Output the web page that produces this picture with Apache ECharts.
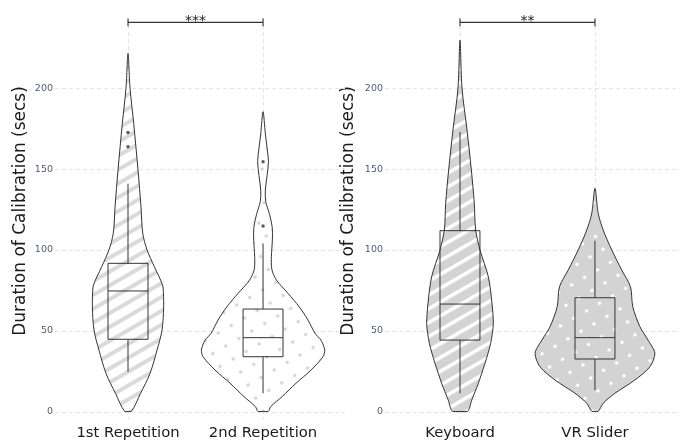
<!DOCTYPE html>
<html><head><meta charset="utf-8">
<script src="https://cdn.jsdelivr.net/npm/echarts@6/dist/echarts.min.js"></script>
<style>html,body{margin:0;padding:0;background:#fff}#c{width:683px;height:441px}</style>
</head><body><div id="c"></div>
<script>
// ---------------- data ----------------
const leftGroups = ['1st Repetition', '2nd Repetition'];
const rightGroups = ['Keyboard', 'VR Slider'];
const yTicks = [0, 50, 100, 150, 200];
const yTitle = 'Duration of Calibration (secs)';

// violin outlines: [seconds, half-width in group units]
const violin1st = [[0,.024],[11.3,.093],[23.6,.163],[38,.215],[50.4,.252],[64.9,.264],[77.2,.259],[89.6,.195],[100,.141],[110.3,.109],[126.7,.096],[149.4,.074],[178.3,.042],[200,.015],[221.6,0]];
const violin2nd = [[0,.037],[3,.056],[9.2,.141],[17.5,.244],[25.7,.356],[33.9,.444],[38,.457],[44,.43],[48.4,.385],[56.6,.333],[64.9,.267],[73.1,.185],[81.4,.099],[88,.065],[96,.062],[106,.069],[114,.068],[122,.048],[130,.02],[137,.017],[146,.03],[154.6,.04],[163,.03],[172,.017],[185.5,0]];
const violinKeyboard = [[0,.054],[7.1,.087],[17.5,.136],[29.8,.185],[42.2,.227],[54.6,.247],[67,.237],[83.4,.21],[100,.148],[112.3,.116],[128.8,.106],[149.4,.084],[174.2,.052],[200,.015],[229.9,0]];
const violinVR = [[0,.022],[5.1,.061],[11.3,.148],[19.5,.296],[27.7,.407],[36,.444],[44.2,.393],[52.5,.333],[64.9,.28],[77.2,.263],[87.6,.198],[100,.124],[112.3,.061],[122.6,.024],[138.1,0]];

// box stats: [lower whisker, Q1, median, Q3, upper whisker]
const box1st = [24.6, 44.7, 74.6, 91.7, 141];
const box2nd = [11.3, 33.9, 45.7, 63.4, 104];
const boxKeyboard = [11.3, 44.2, 66.5, 111.9, 173];
const boxVR = [13.3, 32.5, 45.7, 70.4, 105.7];

const outliers1st = [172.7, 163.9];
const outliers2nd = [154.6, 114.8];
const outliersKeyboard = [];
const outliersVR = [];

const sigLabels = ['***', '**'];
const sigHeights = [240.8, 240.8];

// ---------------- styles ----------------
const FONT = 'DejaVu Sans';
const GRAY = '#d3d3d3';
const LINE = '#333333';
const GRID = '#e4e4e4';
const BOX_HALF = 0.148;

function stripeFill(bg, fg, w) {
  const c = document.createElement('canvas'); c.width = 12; c.height = 12;
  const g = c.getContext('2d');
  g.fillStyle = bg; g.fillRect(0, 0, 12, 12);
  g.fillStyle = fg; g.fillRect(0, 0, 12, w);
  return { image: c, repeat: 'repeat', rotation: -Math.PI / 6 };
}
function dotFill(bg, fg) {
  const c = document.createElement('canvas'); c.width = 15; c.height = 15;
  const g = c.getContext('2d');
  g.fillStyle = bg; g.fillRect(0, 0, 15, 15);
  g.fillStyle = fg; g.beginPath(); g.arc(7.5, 7.5, 1.8, 0, Math.PI * 2); g.fill();
  return { image: c, repeat: 'repeat', rotation: -Math.PI / 6 };
}

function panelSeries(gi, profiles, fills, boxes, outliers, sigLabel, sigY) {
  const s = [];
  s.push({
    type: 'custom', xAxisIndex: gi, yAxisIndex: gi, z: 0, silent: true,
    data: yTicks.map(v => [1, v]),
    renderItem: (params, api) => {
      const cs = params.coordSys; const p = api.coord([1, api.value(1)]);
      return { type: 'line', shape: { x1: cs.x, y1: Math.round(p[1]) + 0.5, x2: cs.x + cs.width, y2: Math.round(p[1]) + 0.5 },
        style: { stroke: GRID, lineWidth: 1, lineDash: [4, 3] } };
    }
  });
  s.push({
    type: 'custom', xAxisIndex: gi, yAxisIndex: gi, z: 0, silent: true,
    data: [[1, 0], [2, 0]],
    renderItem: (params, api) => {
      const cs = params.coordSys; const p = api.coord([api.value(0), 0]);
      return { type: 'line', shape: { x1: Math.round(p[0]) + 0.5, y1: cs.y, x2: Math.round(p[0]) + 0.5, y2: cs.y + cs.height },
        style: { stroke: GRID, lineWidth: 1, lineDash: [4, 3] } };
    }
  });
  s.push({
    type: 'custom', xAxisIndex: gi, yAxisIndex: gi, z: 2, silent: true,
    data: profiles.map((p, i) => [i + 1, 0]),
    renderItem: (params, api) => {
      const i = params.dataIndex, x = api.value(0), prof = profiles[i];
      const right = prof.map(([v, w]) => api.coord([x + w, v]));
      const left = prof.slice(0, -1).reverse().map(([v, w]) => api.coord([x - w, v]));
      return { type: 'polygon',
        shape: { points: right.concat(left), smooth: 0.3, smoothConstraint: [[Infinity, Infinity], [-Infinity, -Infinity]] },
        style: { fill: fills[i], stroke: LINE, lineWidth: 1 } };
    }
  });
  s.push({
    type: 'custom', xAxisIndex: gi, yAxisIndex: gi, z: 3, silent: true,
    data: boxes.map((b, i) => [i + 1].concat(b)),
    renderItem: (params, api) => {
      const x = api.value(0);
      const lo = api.coord([x, api.value(1)]), q1 = api.coord([x, api.value(2)]), md = api.coord([x, api.value(3)]),
            q3 = api.coord([x, api.value(4)]), hi = api.coord([x, api.value(5)]);
      const xl = api.coord([x - BOX_HALF, 0])[0], xr = api.coord([x + BOX_HALF, 0])[0];
      const st = { stroke: LINE, lineWidth: 1, fill: null };
      return { type: 'group', children: [
        { type: 'line', shape: { x1: lo[0], y1: lo[1], x2: q1[0], y2: q1[1] }, style: st },
        { type: 'line', shape: { x1: q3[0], y1: q3[1], x2: hi[0], y2: hi[1] }, style: st },
        { type: 'rect', shape: { x: xl, y: q3[1], width: xr - xl, height: q1[1] - q3[1] }, style: st },
        { type: 'line', shape: { x1: xl, y1: md[1], x2: xr, y2: md[1] }, style: st }
      ] };
    }
  });
  const od = [];
  outliers.forEach((arr, i) => arr.forEach(v => od.push([i + 1, v])));
  s.push({ type: 'scatter', xAxisIndex: gi, yAxisIndex: gi, z: 4, silent: true, symbolSize: 3.5,
    itemStyle: { color: LINE }, data: od });
  s.push({
    type: 'custom', xAxisIndex: gi, yAxisIndex: gi, z: 5, silent: true, clip: false,
    data: [[1, sigY]],
    renderItem: (params, api) => {
      const y = api.value(1);
      const a = api.coord([1, y]), b = api.coord([2, y]);
      const at = api.coord([1, y + 2.4]), ab = api.coord([1, y - 2.4]);
      const bt = api.coord([2, y + 2.4]), bb = api.coord([2, y - 2.4]);
      const st = { stroke: LINE, lineWidth: 1.1 };
      return { type: 'group', children: [
        { type: 'line', shape: { x1: a[0], y1: a[1], x2: b[0], y2: b[1] }, style: st },
        { type: 'line', shape: { x1: at[0], y1: at[1], x2: ab[0], y2: ab[1] }, style: st },
        { type: 'line', shape: { x1: bt[0], y1: bt[1], x2: bb[0], y2: bb[1] }, style: st },
        { type: 'text', x: (a[0] + b[0]) / 2, y: a[1] - 1,
          style: { text: sigLabel, fontFamily: FONT, fontSize: 14, fill: '#1a1a1a', align: 'center', verticalAlign: 'middle' } }
      ] };
    }
  });
  return s;
}

function xAxisFor(gi, groups, min, max) {
  return { gridIndex: gi, type: 'value', min: min, max: max,
    axisLine: { show: false }, axisTick: { show: false }, splitLine: { show: false },
    axisLabel: { customValues: [1, 2], formatter: v => groups[Math.round(v) - 1] || '',
      fontFamily: FONT, fontSize: 14.8, color: '#1a1a1a', margin: 6 } };
}
function yAxisFor(gi) {
  return { gridIndex: gi, type: 'value', min: -5, max: 243.5,
    axisLine: { show: false }, axisTick: { show: false }, splitLine: { show: false },
    axisLabel: { customValues: yTicks, fontFamily: FONT, fontSize: 9.5, color: '#4d5b78', margin: 2 } };
}

const chart = echarts.init(document.getElementById('c'), null, { renderer: 'canvas' });
chart.setOption({
  animation: false,
  backgroundColor: '#ffffff',
  grid: [
    { left: 55, top: 18, width: 290, height: 401.6 },
    { left: 385, top: 18, width: 295, height: 401.6 }
  ],
  xAxis: [xAxisFor(0, leftGroups, 0.4593, 2.607), xAxisFor(1, rightGroups, 0.4444, 2.63)],
  yAxis: [yAxisFor(0), yAxisFor(1)],
  graphic: [
    { type: 'text', x: 21, y: 211, rotation: Math.PI / 2,
      style: { text: yTitle, fontFamily: FONT, fontSize: 17, fill: '#1a1a1a', align: 'center', verticalAlign: 'middle' } },
    { type: 'text', x: 349, y: 211, rotation: Math.PI / 2,
      style: { text: yTitle, fontFamily: FONT, fontSize: 17, fill: '#1a1a1a', align: 'center', verticalAlign: 'middle' } }
  ],
  series: [].concat(
    panelSeries(0, [violin1st, violin2nd], [stripeFill('#ffffff', '#dadada', 4), dotFill('#ffffff', '#d6d6d6')],
      [box1st, box2nd], [outliers1st, outliers2nd], sigLabels[0], sigHeights[0]),
    panelSeries(1, [violinKeyboard, violinVR], [stripeFill(GRAY, '#ffffff', 3.5), dotFill(GRAY, '#ffffff')],
      [boxKeyboard, boxVR], [outliersKeyboard, outliersVR], sigLabels[1], sigHeights[1])
  )
});
</script>
</body></html>
